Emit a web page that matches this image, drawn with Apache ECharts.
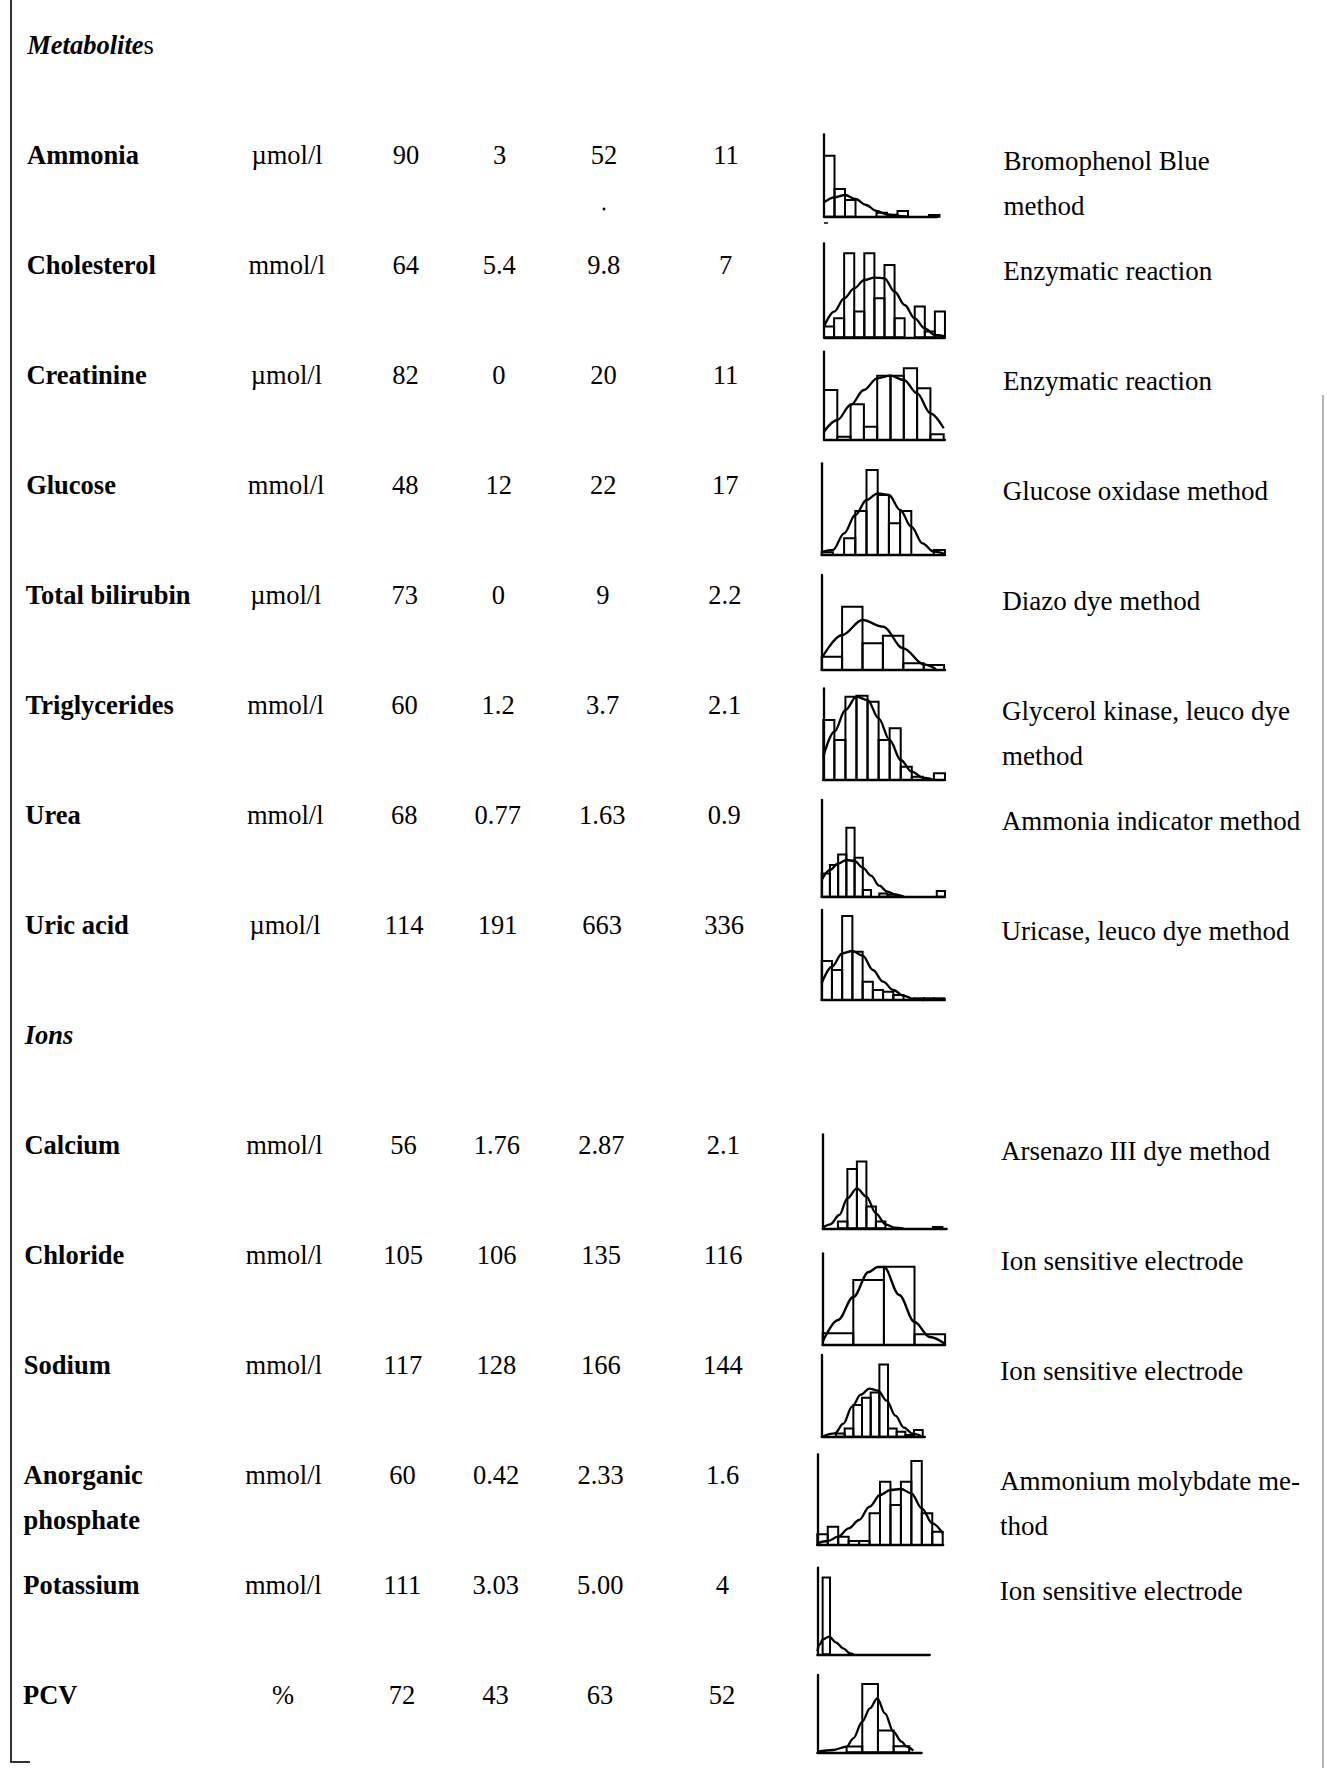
<!DOCTYPE html>
<html>
<head>
<meta charset="utf-8">
<script src="https://cdn.jsdelivr.net/npm/echarts@6/dist/echarts.min.js"></script>
<style>
html,body{margin:0;padding:0;background:#fff;}
#chart{width:1327px;height:1768px;}
</style>
</head>
<body>
<div id="chart"></div>
<script>
// ---------------- Table data ----------------
const sectionTitles = ['Metabolites', 'Ions'];
const analytes = ['Ammonia','Cholesterol','Creatinine','Glucose','Total bilirubin','Triglycerides','Urea','Uric acid',
  'Calcium','Chloride','Sodium','Anorganic\nphosphate','Potassium','PCV'];
const units = ['µmol/l','mmol/l','µmol/l','mmol/l','µmol/l','mmol/l','mmol/l','µmol/l',
  'mmol/l','mmol/l','mmol/l','mmol/l','mmol/l','%'];
const nValues = ['90','64','82','48','73','60','68','114','56','105','117','60','111','72'];
const minValues = ['3','5.4','0','12','0','1.2','0.77','191','1.76','106','128','0.42','3.03','43'];
const maxValues = ['52','9.8','20','22','9','3.7','1.63','663','2.87','135','166','2.33','5.00','63'];
const medianValues = ['11','7','11','17','2.2','2.1','0.9','336','2.1','116','144','1.6','4','52'];
const methods = ['Bromophenol Blue\nmethod','Enzymatic reaction','Enzymatic reaction','Glucose oxidase method',
  'Diazo dye method','Glycerol kinase, leuco dye\nmethod','Ammonia indicator method','Uricase, leuco dye method',
  'Arsenazo III dye method','Ion sensitive electrode','Ion sensitive electrode','Ammonium molybdate me-\nthod',
  'Ion sensitive electrode',''];

// ---------------- Histogram data (frequencies per bin, fitted curve points [bin, freq]) ----------------
const ammoniaBars = [61, 27.7, 16.7, 0, 0, 4, 2, 5.7, 0, 0, 1.7];
const ammoniaCurve = [[0,14.3],[1,19.3],[2,21.7],[3,17.7],[4,11.7],[5,5.7],[6,2.3],[7,0.7],[8,0]];
const cholesterolBars = [10.7, 19, 84, 25.7, 84, 39, 72.3, 19, 0, 30.7, 5.7, 25.7];
const cholesterolCurve = [[0,10.7],[1,25.7],[2,39],[3,49],[4,57.3],[5,59.7],[6,59],[7,45.7],[8,32.3],[9,19],[10,9],[11,2.3],[12,1]];
const creatinineBars = [50, 3.3, 35.7, 13.3, 64.3, 64.3, 71.7, 51.7, 5.7];
const creatinineCurve = [[0,8.3],[1,20],[2,35],[3,50],[4,61.7],[5,64.3],[6,60],[7,46.7],[8,26.7],[9,11.7]];
const glucoseBars = [2.7, 0, 16.7, 44, 85, 60, 31.7, 44, 0, 0, 5];
const glucoseCurve = [[0,2.7],[1,5],[2,21.7],[3,40],[4,55],[5,61.7],[6,60],[7,45],[8,28.3],[9,11.7],[10,3.3],[11,1]];
const bilirubinBars = [13.3, 63.3, 26.7, 34.3, 6.7, 5];
const bilirubinCurve = [[0,11.7],[1,35],[2,50],[3,43.3],[4,21.7],[5,5.7],[5.6,1]];
const triglyceridesBars = [60, 40, 83.3, 84.3, 78.3, 40, 51.7, 13.3, 3.3, 0, 6.7];
const triglyceridesCurve = [[0,23.3],[1,48.3],[2,70],[3,83.3],[4,80],[5,61.7],[6,40],[7,20],[8,8.3],[9,2.3],[10,0]];
const ureaBars = [23.3, 31.7, 42.3, 69, 39, 6.7, 0, 3.3, 2.3, 0, 0, 0, 0, 0, 5.7];
const ureaCurve = [[0,16.7],[1,26.7],[2,33.3],[3,36.7],[4,35.7],[5,29],[6,21],[7,11],[8,5],[9,2],[10,0]];
const uricAcidBars = [39, 30, 84, 48.3, 18.3, 10, 8.3, 5, 0, 1.7, 1.7, 1.7];
const uricAcidCurve = [[0,16.7],[1,33.3],[2,46.7],[3,49],[4,44.3],[5,30],[6,18.3],[7,10],[8,4.3],[9,1],[10,0]];
const calciumBars = [6.7, 59.3, 66.7, 21.7, 6.7, 0, 0, 0, 0, 0, 1.3];
const calciumCurve = [[0,0.5],[0.8,4],[1.75,13.3],[2.6,30],[3.6,40],[4.6,31.7],[5.6,15],[6.6,4],[7.6,0.7],[8.5,0]];
const chlorideBars = [11.7, 65, 78.3, 10.7];
const chlorideCurve = [[0,3.3],[0.5,25],[1,48],[1.5,73],[1.8,78],[2,78],[2.5,50],[3,23],[3.5,8],[4,1]];
const sodiumBars = [3.3, 8.3, 31.7, 39, 44.3, 72.3, 8.3, 5, 1.7, 6.7];
const sodiumCurve = [[0,0],[1.5,3.3],[2.5,13],[3.5,30],[4.5,42],[5.5,48],[6.5,46],[7.5,36],[8.5,21],[9.5,9],[10.5,3],[11.5,0.5]];
const phosphateBars = [10.7, 18.3, 8.3, 4, 4, 31.7, 63.3, 40, 63.3, 84, 31.7, 13.3];
const phosphateCurve = [[0,1.7],[1,4],[2,8.3],[3,16.7],[4,25],[5,38.3],[6,50],[7,55],[8,56],[9,51.7],[10,36.7],[11,21.7],[12,11.7]];
const potassiumBars = [76.7];
const potassiumCurve = [[0,3],[0.35,10],[0.72,15],[1.62,17.7],[2.5,12],[3.5,6],[4.4,1],[4.9,0]];
const pcvBars = [5.7, 68.3, 21.7, 6];
const pcvCurve = [[0,0.7],[1.02,2.3],[1.87,5.7],[2.3,14],[2.87,30.7],[3.36,44],[3.83,54],[4.32,39],[4.85,20.7],[5.38,10.7],[5.7,5.7],[6.13,1.7]];

// axis extents of each histogram (bins on x, frequency on y)
const histXBins = [10.76, 12, 9.1, 11, 6.05, 11, 15, 12.05, 13.05, 4, 11.9, 12.05, 15.2, 6.66];
const histYMax = [82.3, 94, 88.3, 91.7, 95, 91.7, 96.7, 90, 94, 91.7, 81.7, 90.7, 86.6, 77.3];
const histBarOffset = [0, 0, 0, 0, 0, 0, 0, 0, 1.6, 0, 1.65, 0, 0.72, 1.87];

const allBars = [ammoniaBars, cholesterolBars, creatinineBars, glucoseBars, bilirubinBars, triglyceridesBars,
  ureaBars, uricAcidBars, calciumBars, chlorideBars, sodiumBars, phosphateBars, potassiumBars, pcvBars];
const allCurves = [ammoniaCurve, cholesterolCurve, creatinineCurve, glucoseCurve, bilirubinCurve, triglyceridesCurve,
  ureaCurve, uricAcidCurve, calciumCurve, chlorideCurve, sodiumCurve, phosphateCurve, potassiumCurve, pcvCurve];

// ---------------- Layout (pixels) ----------------
const histLayout = [
  {x: 824, base: 216.7, bin: 10.5},
  {x: 824, base: 337.3, bin: 10.08},
  {x: 824, base: 440, bin: 13.3},
  {x: 821.7, base: 555, bin: 11.2},
  {x: 821.7, base: 670, bin: 20.4},
  {x: 823.3, base: 780, bin: 11.06},
  {x: 821.7, base: 896.7, bin: 8.22},
  {x: 821.7, base: 1000, bin: 10.23},
  {x: 822.7, base: 1228.3, bin: 9.5},
  {x: 822.7, base: 1345, bin: 30.6},
  {x: 821.7, base: 1436.7, bin: 8.67},
  {x: 817.3, base: 1545, bin: 10.45},
  {x: 817.3, base: 1654.3, bin: 7.4},
  {x: 817.3, base: 1752.3, bin: 15.67}
];
const rowSlots = [0,1,2,3,4,5,6,7,9,10,11,12,13,14];
const sectionSlots = [-1, 8];
const rowY = s => 154.5 + 110 * s;
const skew = s => -4 * s / 14;
const FONT = '"Liberation Serif", "Times New Roman", Times, serif';
const BODY = 26.5;

const grids = [], xAxes = [], yAxes = [], series = [], graphics = [];

histLayout.forEach((L, i) => {
  const yMax = histYMax[i];
  grids.push({left: L.x, top: L.base - yMax, width: histXBins[i] * L.bin, height: yMax, containLabel: false});
  const axisCommon = {
    gridIndex: i, type: 'value', min: 0,
    axisLine: {show: true, onZero: false, lineStyle: {color: '#000', width: 2.3}},
    axisTick: {show: false}, axisLabel: {show: false}, splitLine: {show: false}
  };
  xAxes.push(Object.assign({}, axisCommon, {max: histXBins[i]}));
  yAxes.push(Object.assign({}, axisCommon, {max: yMax}));
  const off = histBarOffset[i];
  const barData = [];
  allBars[i].forEach((h, k) => { if (h > 0) barData.push([off + k, off + k + 1, h]); });
  series.push({
    type: 'custom', xAxisIndex: i, yAxisIndex: i, clip: false, silent: true,
    encode: {x: [0, 1], y: 2},
    data: barData,
    renderItem: (params, api) => {
      const p0 = api.coord([api.value(0), api.value(2)]);
      const p1 = api.coord([api.value(1), 0]);
      return {type: 'rect', shape: {x: p0[0], y: p0[1], width: p1[0] - p0[0], height: p1[1] - p0[1]},
        style: {fill: 'none', stroke: '#000', lineWidth: 2}};
    },
    z: 2
  });
  series.push({
    type: 'line', xAxisIndex: i, yAxisIndex: i, data: allCurves[i], smooth: 0.35, smoothMonotone: 'x',
    symbol: 'none', silent: true, clip: false, lineStyle: {color: '#000', width: 2.3}, z: 3
  });
});

function text(str, x, y, opt) {
  return {
    type: 'text', x: x, y: y, silent: true,
    style: Object.assign({
      text: str, fill: '#000', fontFamily: FONT, fontSize: BODY,
      align: 'left', verticalAlign: 'middle', textAlign: 'left', textVerticalAlign: 'middle'
    }, opt || {})
  };
}

// section titles ("Metabolite" italic bold + upright "s")
graphics.push({
  type: 'text', x: 27 + skew(sectionSlots[0]), y: rowY(sectionSlots[0]), silent: true,
  style: {
    text: '{i|' + sectionTitles[0].slice(0, -1) + '}{n|' + sectionTitles[0].slice(-1) + '}',
    align: 'left', verticalAlign: 'middle', textAlign: 'left', textVerticalAlign: 'middle',
    rich: {
      i: {fontFamily: FONT, fontSize: BODY, fontStyle: 'italic', fontWeight: 'bold', fill: '#000'},
      n: {fontFamily: FONT, fontSize: BODY, fontWeight: 'normal', fill: '#000'}
    }
  }
});
graphics.push(text(sectionTitles[1], 27 + skew(sectionSlots[1]), rowY(sectionSlots[1]),
  {fontStyle: 'italic', fontWeight: 'bold'}));

analytes.forEach((name, i) => {
  const s = rowSlots[i], y = rowY(s), d = skew(s);
  graphics.push(text(name, 27 + d, y - 22.5, {fontWeight: 'bold', lineHeight: 45, verticalAlign: 'top', textVerticalAlign: 'top'}));
  graphics.push(text(units[i], 287 + d, y, {align: 'center', textAlign: 'center'}));
  graphics.push(text(nValues[i], 406 + d, y, {align: 'center', textAlign: 'center'}));
  graphics.push(text(minValues[i], 499.5 + d, y, {align: 'center', textAlign: 'center'}));
  graphics.push(text(maxValues[i], 604 + d, y, {align: 'center', textAlign: 'center'}));
  graphics.push(text(medianValues[i], 726 + d, y, {align: 'center', textAlign: 'center'}));
  if (methods[i]) {
    graphics.push(text(methods[i], 1003.5 + d, y + 6 - 22.5,
      {fontSize: 27, lineHeight: 45, verticalAlign: 'top', textVerticalAlign: 'top'}));
  }
});

// page rules and scan specks
graphics.push({type: 'line', silent: true, shape: {x1: 11, y1: 0, x2: 11, y2: 1762}, style: {stroke: '#000', lineWidth: 1.6}});
graphics.push({type: 'line', silent: true, shape: {x1: 10.2, y1: 1762, x2: 30, y2: 1762}, style: {stroke: '#000', lineWidth: 1.6}});
graphics.push({type: 'line', silent: true, shape: {x1: 1323, y1: 395, x2: 1323, y2: 1768}, style: {stroke: '#666', lineWidth: 1}});
graphics.push({type: 'circle', silent: true, shape: {cx: 604, cy: 209, r: 1.4}, style: {fill: '#000'}});
graphics.push({type: 'line', silent: true, shape: {x1: 824, y1: 223, x2: 828, y2: 223}, style: {stroke: '#000', lineWidth: 1.5}});

const chart = echarts.init(document.getElementById('chart'), null, {renderer: 'svg', width: 1327, height: 1768});
chart.setOption({
  backgroundColor: '#fff',
  animation: false,
  grid: grids,
  xAxis: xAxes,
  yAxis: yAxes,
  series: series,
  graphic: {elements: graphics}
});
</script>
</body>
</html>
